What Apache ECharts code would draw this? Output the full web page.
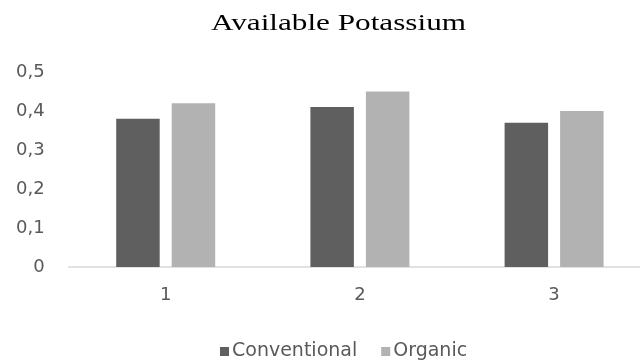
<!DOCTYPE html>
<html>
<head>
<meta charset="utf-8">
<script src="https://cdn.jsdelivr.net/npm/echarts@6/dist/echarts.min.js"></script>
<style>
  html, body { margin: 0; padding: 0; background: #fff; }
  #chart { width: 640px; height: 363px; }
</style>
</head>
<body>
<div id="chart"></div>
<script>
// Available potassium per sampling site, conventional vs organic
const categories = ['1', '2', '3'];
const conventional = [0.38, 0.41, 0.37];
const organic = [0.42, 0.45, 0.40];
const yTicks = { min: 0, max: 0.5, interval: 0.1 };
const titleText = 'Available Potassium';

const labelFont = '"DejaVu Sans", sans-serif';

const chart = echarts.init(document.getElementById('chart'));
chart.setOption({
  backgroundColor: '#ffffff',
  animation: false,
  graphic: [
    {
      // title, widened horizontally
      type: 'text',
      x: 338.5,
      y: 24,
      scaleX: 1.3,
      style: {
        text: titleText,
        font: '24px "Liberation Serif", "Times New Roman", serif',
        fill: '#000000',
        textAlign: 'center',
        textVerticalAlign: 'middle'
      }
    }
  ],
  legend: {
    left: 220,
    top: 342,
    padding: 0,
    icon: 'rect',
    itemWidth: 9,
    itemHeight: 9,
    itemGap: 24,
    textStyle: { fontFamily: labelFont, fontSize: 19, color: '#595959', padding: [0, 0, 0, -2] },
    data: ['Conventional', 'Organic']
  },
  grid: { left: 68.6, width: 582.6, top: 72, bottom: 96, outerBoundsMode: 'none' },
  xAxis: {
    type: 'category',
    data: categories,
    axisLine: { lineStyle: { color: '#d9d9d9', width: 1.5 } },
    axisTick: { show: false },
    axisLabel: { margin: 19, fontFamily: labelFont, fontSize: 18, color: '#595959' }
  },
  yAxis: {
    type: 'value',
    min: yTicks.min,
    max: yTicks.max,
    interval: yTicks.interval,
    splitLine: { show: false },
    axisLine: { show: false },
    axisTick: { show: false },
    axisLabel: {
      margin: 24,
      fontFamily: labelFont,
      fontSize: 18,
      color: '#595959',
      formatter: v => String(Math.round(v * 10) / 10).replace('.', ',')
    }
  },
  series: [
    {
      name: 'Conventional',
      type: 'bar',
      data: conventional,
      barWidth: 43.5,
      barGap: '27.6%',
      itemStyle: { color: '#5f5f5f' }
    },
    {
      name: 'Organic',
      type: 'bar',
      data: organic,
      barWidth: 43.5,
      itemStyle: { color: '#b2b2b2' }
    }
  ]
});
</script>
</body>
</html>
